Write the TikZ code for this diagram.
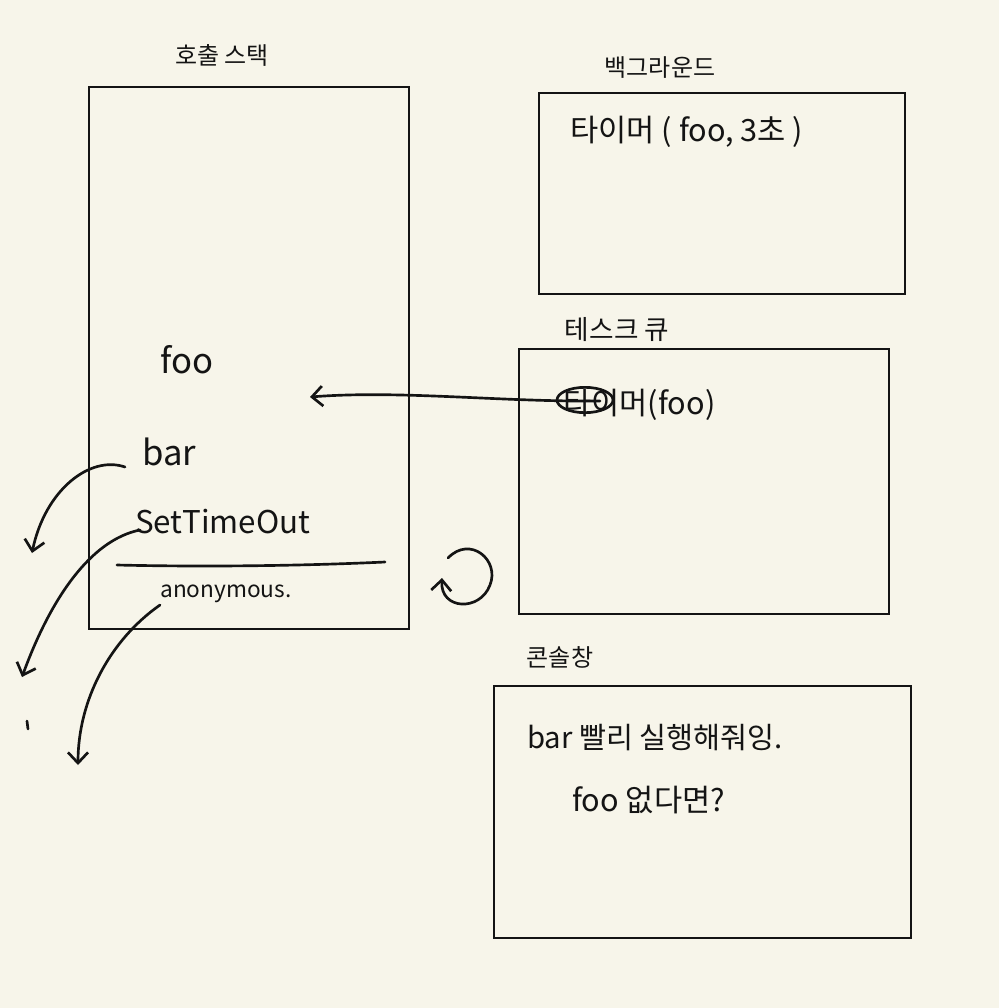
\documentclass[tikz,border=0pt]{standalone}
\usepackage{fontspec}
\setmainfont{Noto Sans CJK KR}
\usetikzlibrary{arrows.meta,shapes.geometric}
\definecolor{paper}{RGB}{247,245,234}
\definecolor{ink}{RGB}{20,20,20}
\newcommand{\fsz}[1]{\fontsize{#1}{#1}\selectfont}
\tikzset{
  panel/.style={draw=ink, line width=1.6pt},
  title/.style={font=\fsz{18pt}, text=ink, anchor=center, inner sep=0pt},
  label/.style={font=\fsz{17pt}, text=ink, anchor=west, inner sep=0pt},
  stroke/.style={draw=ink, line width=2pt, line cap=round},
  hand/.style={stroke, -{Straight Barb[length=8pt,width=15pt,line width=2pt]}},
}
\begin{document}
\begin{tikzpicture}[x=0.75pt,y=-0.75pt]
\fill[paper] (0,0) rectangle (999,1008);
\useasboundingbox (0,0) rectangle (999,1008);

% call stack
\node[title] (stackT) at (222,55) {호출 스택};
\draw[panel] (89,87) rectangle (409,629);
\node[label, font=\fsz{26pt}] (foo) at (160,360) {foo};
\node[label, font=\fsz{26pt}] (bar) at (142,452) {bar};
\node[label, font=\fsz{23.5pt}] (sto) at (135,522) {SetTimeOut};
\node[label] (anon) at (160,594) {anonymous.};
\coordinate (sepL) at (117,565);
\coordinate (sepR) at (385,562);
\draw[stroke] (sepL) .. controls (200,567) and (300,566) .. (sepR);

% background
\node[title] (bgT) at (660,68) {백그라운드};
\draw[panel] (539,93) rectangle (905,294);
\node[label, font=\fsz{23pt}] (timer) at (570,132) {타이머 ( foo,  3초 )};

% task queue
\node[title, font=\fsz{20pt}] (tqT) at (617,330) {테스크 큐};
\draw[panel] (519,349) rectangle (889,614);
\node[label, font=\fsz{23pt}] (qtimer) at (563,405) {타이머(foo)};
\node[draw=ink, line width=2pt, ellipse, minimum width=42pt, minimum height=19pt, inner sep=0pt] (circ) at (585,400) {};
\coordinate (qstart) at (600,401);
\coordinate (qend) at (310,397);
\draw[hand] (qstart) .. controls (500,402) and (400,390) .. (qend);

% loop arrow
\coordinate (loopS) at (448,558);
\coordinate (loopE) at (442,578);
\draw[hand] (loopS) .. controls (470,535) and (500,560) .. (490,585) .. controls (480,612) and (440,610) .. (loopE);

% console
\node[title] (conT) at (560,657) {콘솔창};
\draw[panel] (494,686) rectangle (911,938);
\node[label, font=\fsz{22pt}] (out1) at (527,738) {bar 빨리 실행해줘잉.};
\node[label, font=\fsz{23pt}] (out2) at (572,800) {foo 없다면?};

% pops out of stack
\coordinate (popA) at (32,553);
\coordinate (popB) at (22,677);
\coordinate (popC) at (78,765);
\draw[hand] (125,467) .. controls (90,455) and (45,490) .. (popA);
\draw[hand] (140,530) .. controls (90,540) and (50,600) .. (popB);
\draw[hand] (160,605) .. controls (110,640) and (78,700) .. (popC);
\draw[stroke] (27,721) -- (28,729);
\end{tikzpicture}
\end{document}
